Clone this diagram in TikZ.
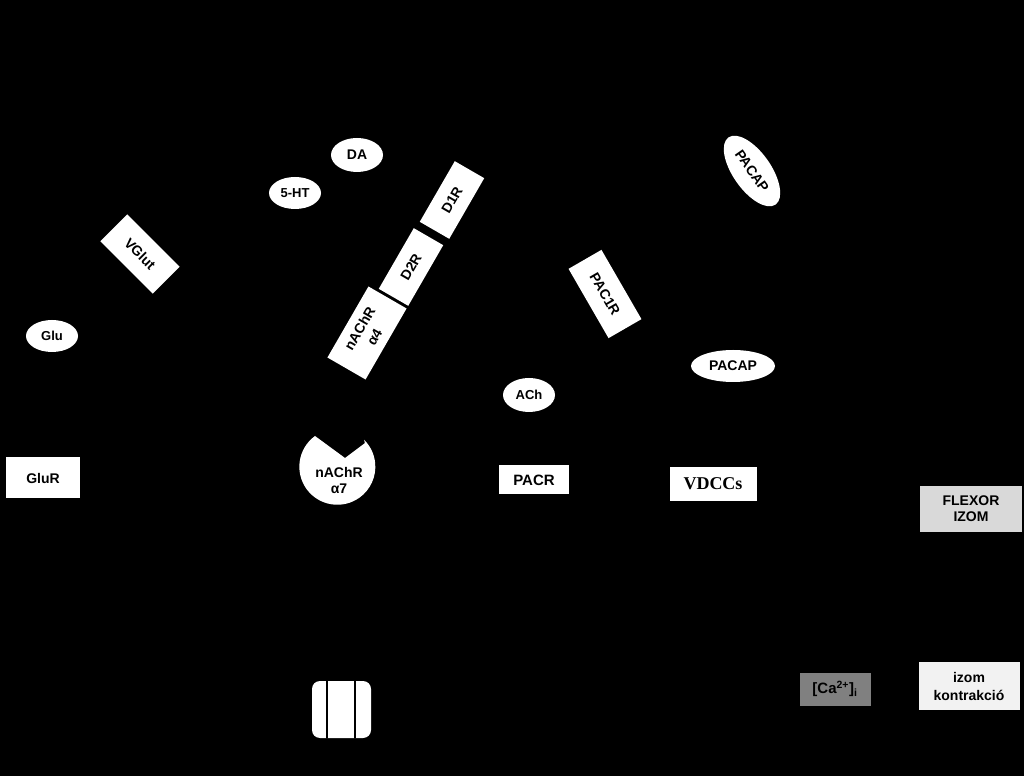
\documentclass[tikz,border=0pt]{standalone}
\usepackage{fontspec}
\setmainfont{Liberation Sans}
\newfontfamily\serifbold{Liberation Serif}
\usetikzlibrary{shapes.geometric}
\newcommand{\lbl}{\fontsize{14}{15}\selectfont\bfseries}
\tikzset{
  mol/.style={ellipse,fill=white,draw=none,font=\lbl,inner sep=0pt},
  rec/.style={rectangle,fill=white,draw=none,font=\lbl,align=center,inner sep=0pt},
}
\begin{document}
\begin{tikzpicture}[x=1pt,y=1pt,line cap=round,line join=round]
\useasboundingbox[fill=black] (0,0) rectangle (1024,776);
% ligands
\node[mol,minimum width=52,minimum height=34] (da) at (357,621) {DA};
\node[mol,minimum width=52,minimum height=32,font=\fontsize{13}{14}\selectfont\bfseries] (ht) at (295,583) {5-HT};
\node[mol,minimum width=52,minimum height=32,font=\fontsize{13}{14}\selectfont\bfseries] (glu) at (52,440) {Glu};
\node[mol,minimum width=52,minimum height=34,font=\fontsize{13}{14}\selectfont\bfseries] (ach) at (529,381) {ACh};
\node[mol,minimum width=84,minimum height=32] (pacapb) at (733,410) {PACAP};
\node[mol,minimum width=82,minimum height=38,rotate=-55] (pacapt) at (752,605) {PACAP};
% tilted receptors
\node[rec,minimum width=74,minimum height=38,rotate=-45] (vglut) at (140,522) {VGlut};
\node[rec,minimum width=70,minimum height=34,rotate=60] (d1r) at (452,576) {D1R};
\node[rec,minimum width=70,minimum height=34,rotate=60] (d2r) at (411,509) {D2R};
\node[rec,minimum width=82,minimum height=44,rotate=60,font=\fontsize{14}{17}\selectfont\bfseries] (na4) at (367,443) {nAChR\\α4};
\node[rec,minimum width=80,minimum height=38,rotate=-60] (pac1r) at (605,482) {PAC1R};
% boxes
\node[rec,minimum width=74,minimum height=41] (glur) at (43,298) {GluR};
\node[rec,minimum width=70,minimum height=29,font=\fontsize{15}{16}\selectfont\bfseries] (pacr) at (534,296) {PACR};
\node[rec,minimum width=87,minimum height=34,font=\serifbold\fontsize{18}{19}\selectfont\bfseries] (vdcc) at (713,292) {VDCCs};
\node[rec,fill=black!15,minimum width=102,minimum height=46,font=\fontsize{14}{16}\selectfont\bfseries] (flex) at (971,267) {FLEXOR\\IZOM};
\node[rec,fill=black!5,minimum width=101,minimum height=48,font=\fontsize{14}{18}\selectfont\bfseries] (kontr) at (969,90) {izom\\kontrakció};
\node[rec,fill=black!50,minimum width=71,minimum height=33,font=\fontsize{15}{16}\selectfont\bfseries] (ca) at (835,87) {[Ca\textsuperscript{2+}]\textsubscript{i}};
% nAChR a7
\fill[white] (338,306) ++(45:38) -- (345,318) -- ++(-30,22) arc (126:405:38) -- cycle;
\node[font=\fontsize{14}{16}\selectfont\bfseries,align=center] (na7) at (339,296) {nAChR\\α7};
% channel
\fill[white,rounded corners=8] (312,38) rectangle (371,95);
\draw[black,line width=1.5] (327,38) -- (327,95) (355,38) -- (355,95);
\end{tikzpicture}
\end{document}
